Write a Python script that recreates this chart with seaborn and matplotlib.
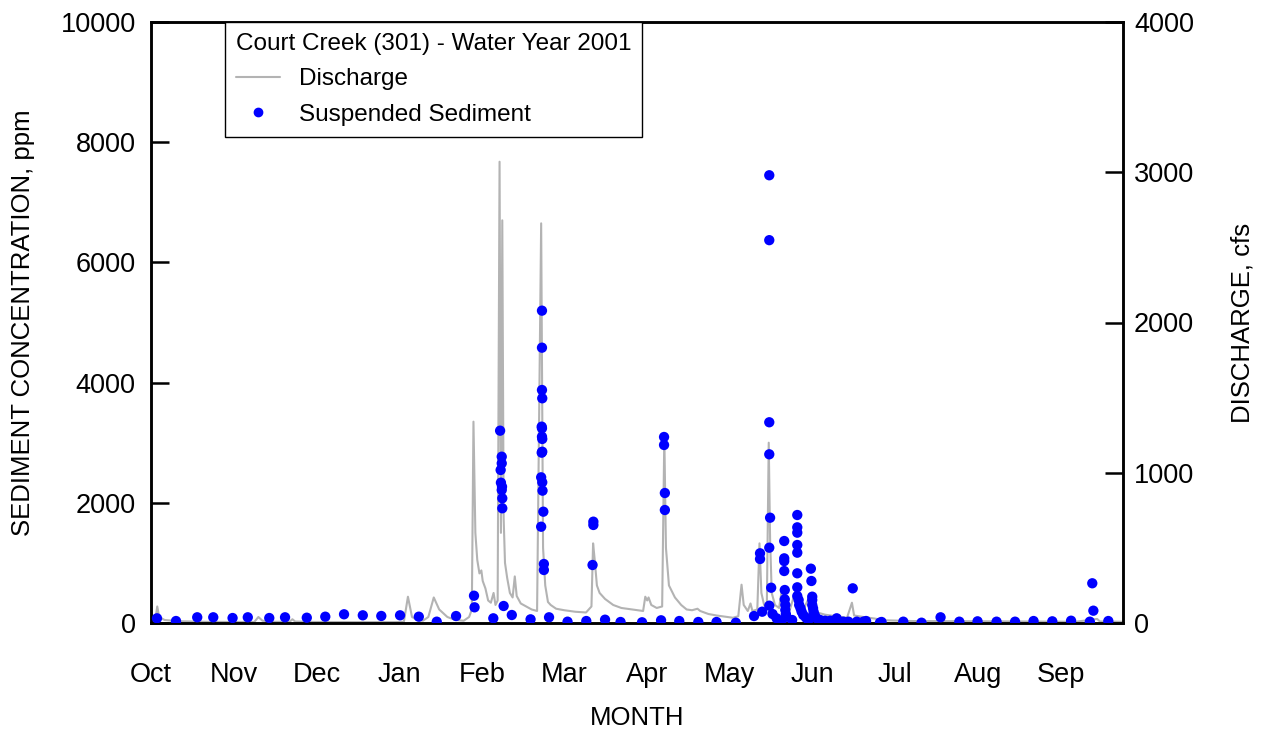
import numpy as np
import pandas as pd
import matplotlib
matplotlib.use("Agg")
import matplotlib.pyplot as plt
import seaborn as sns
from matplotlib.lines import Line2D

# ---- data (x = days since Oct 1, months drawn equally spaced) ----
MONTHS = ['Oct', 'Nov', 'Dec', 'Jan', 'Feb', 'Mar', 'Apr', 'May', 'Jun', 'Jul', 'Aug', 'Sep']
MONTH_LEN = 365 / 12

q_day = [0, 1.5, 2.3, 3, 5, 10, 20, 30, 38, 39.5, 41, 45, 51, 52, 53, 60, 75, 90, 93, 94.5, 96, 98,
         100, 102, 104, 106, 109, 112, 115, 117, 118, 118.6, 119.3, 120, 120.8, 121.5, 122, 123, 124,
         125, 126, 126.7, 127.5, 128.2, 128.7, 129.2, 129.7, 130.2, 131, 132, 133, 133.8, 134.5, 136,
         138, 140, 142, 143.5, 144.2, 145, 146, 147, 149, 152, 156, 160, 162, 162.6, 163.2, 164, 165,
         167, 170, 173, 177, 181, 181.8, 182.5, 183, 184, 186, 188, 188.8, 189.4, 190.5, 192.7, 195,
         197, 199, 201, 202, 205, 208, 212, 214, 216, 217.2, 218, 219.5, 220.5, 221.2, 223, 223.8,
         224.5, 225.5, 226.5, 227.2, 227.7, 228.3, 229.5, 231, 232.2, 233, 235, 237.4, 238.3, 240,
         242.8, 243.6, 245, 248, 252, 256, 257.8, 258.6, 262, 266, 270, 280, 300, 320, 340, 348, 349,
         357.5]
q_cfs = [10, 12, 110, 40, 20, 12, 8, 7, 7, 40, 15, 8, 8, 25, 10, 7, 6, 6, 8, 175, 40, 20,
         15, 40, 170, 90, 40, 20, 15, 40, 90, 1340, 600, 420, 330, 350, 280, 230, 150,
         135, 200, 120, 150, 3070, 600, 2680, 700, 400, 300, 200, 170, 310, 180, 130,
         110, 90, 80, 2660, 500, 250, 140, 120, 95, 85, 75, 70, 110, 530, 420, 250, 200,
         160, 120, 100, 90, 80, 175, 150, 170, 120, 100, 110, 1240, 500, 250, 170, 120,
         90, 85, 95, 80, 60, 50, 40, 35, 45, 255, 120, 80, 130, 80, 90, 530,
         200, 120, 110, 1200, 560, 200, 120, 100, 240, 120, 90, 235, 110, 90,
         200, 100, 70, 55, 45, 35, 135, 50, 40, 30, 18, 13, 12, 10, 8, 27, 10,
         8]

ss_day = [2.2, 9.2, 17.0, 22.9, 30.0, 35.6, 43.5, 49.3, 57.3, 64.1, 71.0, 77.9, 84.7, 91.6, 98.5,
          105.1, 112.2, 118.8, 119.0, 125.9,
          128.4, 129.0, 129.0, 128.6, 128.7, 129.1, 129.0, 129.2, 129.2,
          129.7, 132.7, 139.6,
          143.8, 143.8, 143.8, 143.9, 143.7, 143.8, 143.8, 143.9, 143.7, 143.9, 143.5, 143.9, 144.0,
          144.3, 143.5, 144.5, 144.5,
          146.4, 153.2, 160.1, 162.7, 162.7, 162.4, 167.0, 172.7, 180.6, 187.6,
          188.7, 188.7, 189.0, 189.0,
          194.3, 201.3, 208.0, 215.1, 221.8, 224.0, 224.0, 224.8,
          227.4, 227.4, 227.4, 227.4, 227.7, 227.4, 228.1, 227.4, 228.6, 230.1, 231.9,
          232.9, 232.9, 232.9, 232.9, 233.1, 233.1, 233.3, 233.3, 233.5, 233.7,
          235.8,
          237.7, 237.7, 237.7, 237.7, 237.7, 237.7, 237.7, 237.7, 238.2, 238.4, 238.9, 239.3, 239.9,
          240.9, 241.8,
          242.7, 242.9, 243.2, 243.2, 243.2, 243.5, 243.7, 244.1, 244.8, 246.1, 247.9, 249.8, 252.2,
          254.6, 256.5,
          258.1, 259.6, 262.0, 263.0, 268.1, 268.7, 276.7, 283.4, 290.4, 297.3, 304.0, 311.0, 317.8,
          324.6, 331.5, 338.4, 345.3, 346.2, 346.6, 352.1]
ss_ppm = [78, 33, 95, 95, 83, 95, 83, 95, 88, 105, 145, 128, 117, 128, 105,
          22, 116, 454, 261, 78,
          3200, 2767, 2657, 2546, 2335, 2268, 2213, 2075, 1909,
          283, 133, 61,
          5197, 4581, 3877, 3739, 3267, 3240, 3100, 3062, 2834, 2850, 2424, 2341, 2202,
          1852, 1602, 982, 882,
          95, 22, 33, 1686, 1631, 965, 55, 17, 12, 45,
          3095, 2962, 2163, 1880,
          33, 17, 17, 5, 116, 1160, 1065, 188,
          7450, 6370, 3340, 2807, 1752, 1253, 587, 288, 150, 78, 33,
          1364, 1076, 1030, 865, 549, 394, 300, 216, 150, 105,
          50,
          1797, 1592, 1503, 1298, 1170, 827, 594, 449, 383, 300, 245, 188, 133,
          88, 50,
          904, 699, 438, 383, 300, 245, 188, 133, 78, 50, 38, 38, 78,
          22, 22,
          577, 22, 22, 33, 5, 17, 22, 5, 95, 22, 28, 22, 22,
          33, 28, 38, 22, 661, 205, 33]

df_q = pd.DataFrame({'day': q_day, 'cfs': q_cfs})
df_ss = pd.DataFrame({'day': ss_day, 'ppm': ss_ppm})

# ---- figure ----
sns.set_style("white")
plt.rcParams['font.family'] = ['Liberation Sans', 'DejaVu Sans']
plt.rcParams.update({'text.color': 'black', 'axes.labelcolor': 'black',
                     'xtick.color': 'black', 'ytick.color': 'black'})
FS_TICK = 19.5
FS_LAB = 18.5
FS_LEG = 17.5

fig = plt.figure(figsize=(12.63, 7.38), dpi=100)
ax = fig.add_axes([151 / 1263, 1 - 623 / 738, 972 / 1263, 601 / 738])
ax2 = ax.twinx()

sns.lineplot(data=df_q, x='day', y='cfs', ax=ax2, color='#b3b3b3', linewidth=1.5,
             estimator=None, sort=False)
sns.scatterplot(data=df_ss, x='day', y='ppm', ax=ax, color='#0000ff', s=55,
                edgecolor='none', linewidth=0, zorder=5)

# sediment axis on top so the dots sit over the discharge line
ax.set_zorder(ax2.get_zorder() + 1)
ax.patch.set_visible(False)

ax.set_xlim(0, 357.5)
ax.set_ylim(0, 10000)
ax2.set_ylim(0, 4000)
ax.set_xticks([i * MONTH_LEN for i in range(12)])
ax.set_xticklabels(MONTHS)
ax.set_yticks(np.arange(0, 10001, 2000))
ax2.set_yticks(np.arange(0, 4001, 1000))

ax.tick_params(axis='x', direction='out', length=13, width=1.8, pad=15, labelsize=FS_TICK)
ax.tick_params(axis='y', direction='in', length=13, width=1.8, pad=11, labelsize=FS_TICK)
ax2.tick_params(axis='y', direction='in', length=13, width=1.8, pad=8, labelsize=FS_TICK)

for a in (ax, ax2):
    for s in a.spines.values():
        s.set_visible(True)
        s.set_color('black')
        s.set_linewidth(1.8)

ax.set_xlabel('MONTH', fontsize=FS_LAB, labelpad=13)
ax.set_ylabel('SEDIMENT CONCENTRATION, ppm', fontsize=FS_LAB, labelpad=18)
ax2.set_ylabel('DISCHARGE, cfs', fontsize=FS_LAB, labelpad=26)

handles = [Line2D([], [], color='#b3b3b3', linewidth=1.5),
           Line2D([], [], color='#0000ff', marker='o', linestyle='none', markersize=6)]
leg = ax.legend(handles, ['Discharge', 'Suspended Sediment'],
                title='Court Creek (301) - Water Year 2001', title_fontsize=FS_LEG, fontsize=FS_LEG,
                loc='upper left', bbox_to_anchor=((225 - 151) / 972, 1.0), borderaxespad=0,
                frameon=True, fancybox=False, framealpha=1, edgecolor='black',
                alignment='left', handlelength=1.8, handletextpad=0.8,
                labelspacing=0.55, borderpad=0.45)
leg.get_frame().set_linewidth(1.0)

fig.savefig('out.png', dpi=100)
